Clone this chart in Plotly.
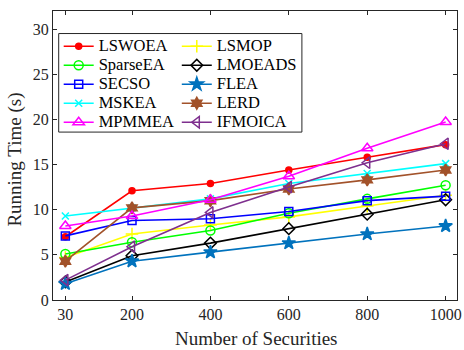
import plotly.graph_objects as go

securities = [30, 200, 400, 600, 800, 1000]

lswoea = [7.0, 12.1, 12.9, 14.4, 15.8, 17.2]
lsmop = [4.7, 7.3, 8.3, 9.2, 10.4, 11.6]
sparseea = [5.1, 6.4, 7.7, 9.6, 11.2, 12.7]
lmoeads = [2.0, 4.9, 6.3, 7.9, 9.5, 11.1]
secso = [7.1, 8.8, 9.0, 9.8, 11.0, 11.5]
flea = [1.8, 4.3, 5.3, 6.3, 7.3, 8.2]
mskea = [9.3, 10.2, 11.2, 12.9, 14.0, 15.1]
lerd = [4.3, 10.2, 11.0, 12.3, 13.3, 14.4]
mpmmea = [8.2, 9.3, 11.1, 13.7, 16.8, 19.7]
ifmoica = [2.2, 5.9, 9.7, 12.5, 15.2, 17.3]

# (name, values, colour, marker, size, legend column)
series = [
    ("LSWOEA", lswoea, "#FF0000", "circle", 6, "legend"),
    ("LSMOP", lsmop, "#FFFF00", "cross-thin", 9, "legend2"),
    ("SparseEA", sparseea, "#00FF00", "circle-open", 9, "legend"),
    ("LMOEADS", lmoeads, "#000000", "diamond-open", 9, "legend2"),
    ("SECSO", secso, "#0000FF", "square-open", 8, "legend"),
    ("FLEA", flea, "#0072BD", "star", 10, "legend2"),
    ("MSKEA", mskea, "#00FFFF", "x-thin", 7, "legend"),
    ("LERD", lerd, "#A2522A", "hexagram", 9, "legend2"),
    ("MPMMEA", mpmmea, "#FF00FF", "triangle-up-open", 10, "legend"),
    ("IFMOICA", ifmoica, "#7E2F8E", "triangle-left-open", 10, "legend2"),
]

fig = go.Figure()
for name, vals, color, sym, sz, leg in series:
    fig.add_trace(go.Scatter(
        x=securities, y=vals,
        name="<span style='font-size:16.5px'>" + name + "</span>",
        legend=leg,
        mode="lines+markers",
        line=dict(color=color, width=1.6),
        marker=dict(symbol=sym, size=sz, color=color,
                    line=dict(color=color, width=1.5)),
    ))

font_family = "Liberation Serif, Times New Roman, serif"
legend_common = dict(
    orientation="v", xanchor="left", yanchor="top", y=0.9283,
    bgcolor="rgba(0,0,0,0)", borderwidth=0,
    font=dict(family=font_family, size=12.2, color="black"),
    tracegroupgap=0, itemwidth=30,
)
fig.update_layout(
    width=464, height=350,
    margin=dict(l=53, r=7, t=11, b=50),
    paper_bgcolor="white", plot_bgcolor="white",
    font=dict(family=font_family, size=16, color="#262626"),
    showlegend=True,
    legend=dict(x=0.0141, **legend_common),
    legend2=dict(x=0.3064, **legend_common),
    shapes=[dict(type="rect", xref="paper", yref="paper",
                 x0=0.0141, x1=0.6161, y0=0.581, y1=0.922,
                 line=dict(color="#262626", width=1), fillcolor="white",
                 layer="above")],
    xaxis=dict(
        range=[-1.5, 1029], tickvals=securities, automargin=False,
        ticks="inside", ticklen=4, tickcolor="#262626",
        showline=True, linecolor="#262626", linewidth=1, mirror="ticks",
        showgrid=False, zeroline=False,
        tickfont=dict(family=font_family, size=16),
    ),
    yaxis=dict(
        range=[0, 32], tickvals=[0, 5, 10, 15, 20, 25, 30], automargin=False,
        ticks="inside", ticklen=4, tickcolor="#262626",
        showline=True, linecolor="#262626", linewidth=1, mirror="ticks",
        showgrid=False, zeroline=False,
        tickfont=dict(family=font_family, size=16),
    ),
    annotations=[
        dict(text="Number of Securities", xref="paper", yref="paper",
             x=0.504, y=-0.1336, xanchor="center", yanchor="middle",
             showarrow=False, font=dict(family=font_family, size=19, color="#262626")),
        dict(text="Running Time (s)", xref="paper", yref="paper",
             x=-0.095, y=0.4845, xanchor="center", yanchor="middle", textangle=-90,
             showarrow=False, font=dict(family=font_family, size=19, color="#262626")),
    ],
)

fig.write_html("out.html", config={"displayModeBar": False},
               post_script="document.body.style.margin='0px';")
